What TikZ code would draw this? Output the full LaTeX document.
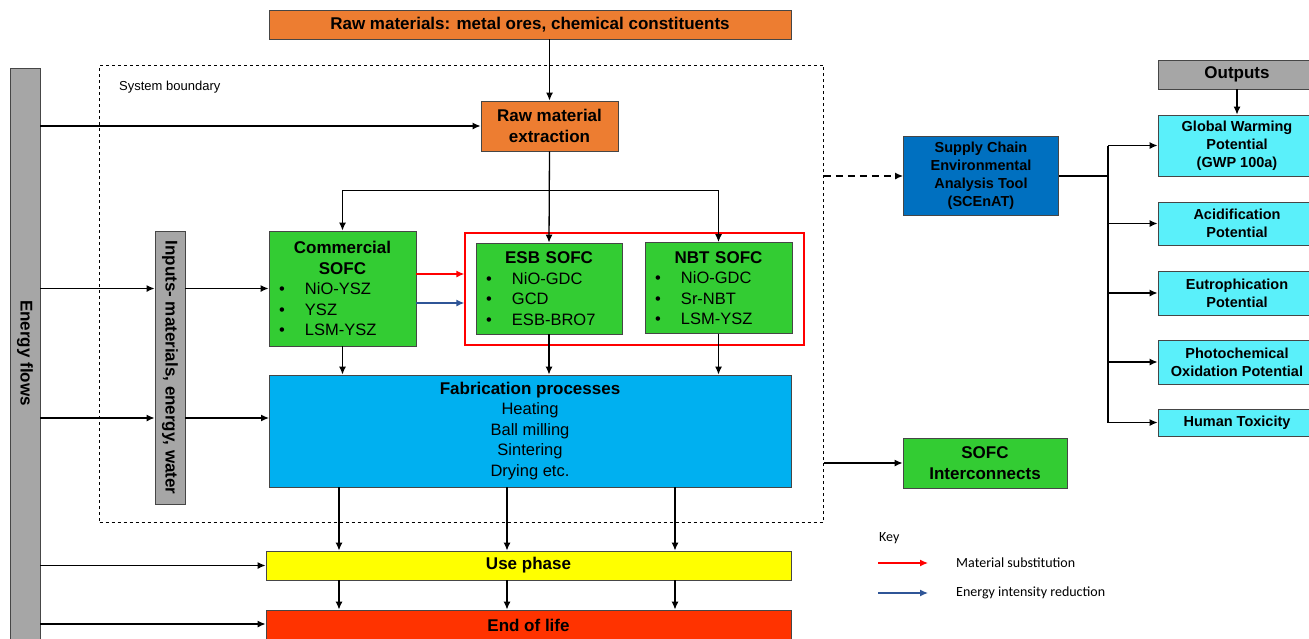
\documentclass[tikz,border=0pt]{standalone}
\usepackage{fontspec}
\setmainfont{Liberation Sans}
\newfontfamily\keyfont{Carlito}
\usetikzlibrary{arrows.meta}
\setlength{\parindent}{0pt}
\definecolor{orng}{RGB}{237,125,49}
\definecolor{grn}{RGB}{51,204,51}
\definecolor{fabblue}{RGB}{0,176,240}
\definecolor{scblue}{RGB}{0,112,192}
\definecolor{cyanbox}{RGB}{90,240,250}
\definecolor{barGray}{RGB}{166,166,166}
\definecolor{eolred}{RGB}{255,51,0}
\definecolor{yel}{RGB}{255,255,0}
\definecolor{edge}{RGB}{70,70,70}
\definecolor{keyblue}{RGB}{47,85,151}
\newcommand{\fsz}[2]{\fontsize{#1}{#2}\selectfont}
\newcommand{\blt}{\makebox[26pt][l]{\textbullet}}
\begin{document}
\begin{tikzpicture}[x=1pt,y=-1pt,
  blk/.style={draw=edge, line width=0.8pt, inner sep=2pt, align=center, text=black},
  ttl/.style={blk, font=\fsz{17}{21}\bfseries},
  sofc/.style={blk, fill=grn, inner xsep=10pt, font=\fsz{17}{20.5}\bfseries},
  cy/.style={blk, fill=cyanbox, minimum width=158, font=\fsz{14.5}{18}\bfseries},
  bar/.style={draw=edge, line width=0.8pt, fill=barGray, minimum width=30, inner sep=0pt},
  barlbl/.style={rotate=-90, font=\fsz{17}{20}\bfseries, inner sep=0pt},
  ln/.style={line width=1.3pt, draw=black},
  arr/.style={ln, -{Latex[length=8pt,width=7pt]}},
  keytxt/.style={font=\keyfont\fsz{14}{16}, anchor=west, inner sep=0pt}
]
\fill[white] (0,0) rectangle (1309,638);
\useasboundingbox (0,0) rectangle (1309,638);

% system boundary
\node[draw=black, dashed, line width=0.9pt, minimum width=724, minimum height=457, inner sep=0pt] (bnd) at (461.5,293.5) {};
\node[anchor=west, inner sep=0pt, font=\fsz{13}{15}] (bndlbl) at (119,87) {System boundary};

% top boxes
\node[ttl, fill=orng, minimum width=522, minimum height=29] (raw) at (530,24.5) {Raw materials: metal ores, chemical constituents};
\node[ttl, fill=orng, minimum width=137, minimum height=50] (extract) at (549.5,126) {Raw material\\extraction};

% bars
\node[bar, minimum height=572] (energy) at (25,354) {};
\node[barlbl] (energylbl) at (25,353) {Energy flows};
\node[bar, minimum height=273] (inputs) at (170,367.5) {};
\node[barlbl] (inputslbl) at (170,367.5) {Inputs- materials, energy, water};

% SOFC boxes
\node[draw=red, line width=1.3pt, minimum width=339, minimum height=112, inner sep=0pt] (redbox) at (634.5,289) {};
\node[sofc, minimum width=147, minimum height=115, text width=127pt] (comm) at (342.5,288.5)
  {\centering Commercial\\SOFC\par\raggedright\mdseries\fsz{16.5}{20.5}\blt NiO-YSZ\\\blt YSZ\\\blt LSM-YSZ\par};
\node[sofc, minimum width=146, minimum height=91, text width=126pt] (esb) at (549,288.5)
  {\centering ESB SOFC\par\raggedright\mdseries\fsz{16.5}{20.5}\blt NiO-GDC\\\blt GCD\\\blt ESB-BRO7\par};
\node[sofc, minimum width=147, minimum height=91, text width=127pt] (nbt) at (718.5,288)
  {\centering NBT SOFC\par\raggedright\mdseries\fsz{16.5}{20.5}\blt NiO-GDC\\\blt Sr-NBT\\\blt LSM-YSZ\par};

% fabrication and life stages
\node[blk, fill=fabblue, minimum width=522, minimum height=112, font=\fsz{16.5}{20.5}] (fab) at (530,431)
  {\textbf{\fsz{17}{20.5}Fabrication processes}\\Heating\\Ball milling\\Sintering\\Drying etc.};
\node[ttl, fill=yel, minimum width=525, minimum height=29] (use) at (528.5,565.5) {Use phase};
\node[ttl, fill=eolred, minimum width=525, minimum height=30] (eol) at (528.5,625) {End of life};

% right side
\node[ttl, fill=grn, minimum width=164, minimum height=50] (inter) at (985,463) {SOFC\\Interconnects};
\node[blk, fill=scblue, minimum width=155, minimum height=79, font=\fsz{14.5}{18}\bfseries] (sc) at (981,176)
  {Supply Chain\\Environmental\\Analysis Tool\\(SCEnAT)};
\node[blk, fill=barGray, minimum width=158, minimum height=29, font=\fsz{17}{20}\bfseries] (outp) at (1237,74.5) {Outputs};
\node[cy, minimum height=61] (gwp) at (1237,145.5) {Global Warming\\Potential\\(GWP 100a)};
\node[cy, minimum height=43] (acid) at (1237,223.5) {Acidification\\Potential};
\node[cy, minimum height=44] (eut) at (1237,293) {Eutrophication\\Potential};
\node[cy, minimum height=44] (photo) at (1237,362) {Photochemical\\Oxidation Potential};
\node[cy, minimum height=27] (hum) at (1237,422.5) {Human Toxicity};

% connectors: top
\draw[arr] (raw.south -| extract.north) -- (extract.north);
\draw[arr] (energy.east |- extract.west) -- (extract.west);
\coordinate (branch) at (549.5,190.5);
\draw[arr] (extract.south) -- (esb.north);
\draw[arr] (branch) -| (comm.north);
\draw[arr] (branch) -| (nbt.north);

% inputs row
\draw[arr] (energy.east |- comm.west) -- (inputs.west |- comm.west);
\draw[arr] (inputs.east |- comm.west) -- (comm.west);
\draw[arr, draw=red] (comm.east |- 0,274) -- (redbox.west |- 0,274);
\draw[arr, draw=keyblue] (comm.east |- 0,303) -- (redbox.west |- 0,303);

% to fabrication
\draw[arr] (comm.south) -- (comm.south |- fab.north);
\draw[arr] (esb.south) -- (esb.south |- fab.north);
\draw[arr] (nbt.south) -- (nbt.south |- fab.north);
\coordinate (fabin) at (269,418);
\draw[arr] (energy.east |- fabin) -- (inputs.west |- fabin);
\draw[arr] (inputs.east |- fabin) -- (fabin);

% lower stages
\foreach \xx in {339,507,675} {
  \draw[arr] (fab.south -| \xx,0) -- (use.north -| \xx,0);
  \draw[arr] (use.south -| \xx,0) -- (eol.north -| \xx,0);
}
\draw[arr] (energy.east |- use.west) -- (use.west);
\draw[arr] (energy.east |- 0,624) -- (eol.west |- 0,624);

% boundary outputs
\draw[arr] (bnd.east |- inter.west) -- (inter.west);
\draw[arr, dashed, dash pattern=on 7pt off 5pt] (bnd.east |- sc.west) -- (sc.west);

% SCEnAT to impact categories
\coordinate (bus) at (1108,176);
\draw[ln] (sc.east) -- (bus);
\draw[ln] (bus |- gwp.west) -- (bus |- hum.west);
\foreach \t in {gwp,acid,eut,photo,hum} {
  \draw[arr] (bus |- \t.west) -- (\t.west);
}
\draw[arr] (outp.south) -- (gwp.north);

% key
\node[keytxt] (key) at (879,538) {Key};
\coordinate (k1a) at (878,563);
\coordinate (k1b) at (928,563);
\coordinate (k2a) at (878,593);
\coordinate (k2b) at (928,593);
\draw[arr, draw=red] (k1a) -- (k1b);
\draw[arr, draw=keyblue] (k2a) -- (k2b);
\node[keytxt] (key1) at (956,563) {Material substitution};
\node[keytxt] (key2) at (956,593) {Energy intensity reduction};
\end{tikzpicture}
\end{document}
